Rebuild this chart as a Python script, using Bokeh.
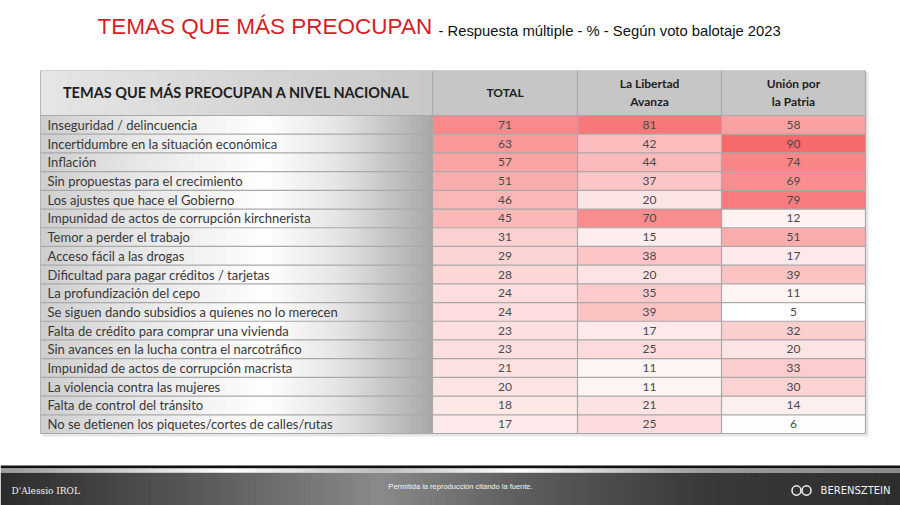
import numpy as np
from bokeh.plotting import figure
from bokeh.models import Range1d, ColumnDataSource, LinearColorMapper
from bokeh.core.properties import value
from bokeh.embed import file_html
from bokeh.resources import INLINE

# ---------------- data ----------------
title_main = "TEMAS QUE MÁS PREOCUPAN"
title_sub = "- Respuesta múltiple - % - Según voto balotaje 2023"
table_header = "TEMAS QUE MÁS PREOCUPAN A NIVEL NACIONAL"
col_headers = [["TOTAL"], ["La Libertad", "Avanza"], ["Unión por", "la Patria"]]

temas = [
    "Inseguridad / delincuencia",
    "Incertidumbre en la situación económica",
    "Inflación",
    "Sin propuestas para el crecimiento",
    "Los ajustes que hace el Gobierno",
    "Impunidad de actos de corrupción kirchnerista",
    "Temor a perder el trabajo",
    "Acceso fácil a las drogas",
    "Dificultad para pagar créditos / tarjetas",
    "La profundización del cepo",
    "Se siguen dando subsidios a quienes no lo merecen",
    "Falta de crédito para comprar una vivienda",
    "Sin avances en la lucha contra el narcotráfico",
    "Impunidad de actos de corrupción macrista",
    "La violencia contra las mujeres",
    "Falta de control del tránsito",
    "No se detienen los  piquetes/cortes de calles/rutas",
]
total = [71, 63, 57, 51, 46, 45, 31, 29, 28, 24, 24, 23, 23, 21, 20, 18, 17]
lla = [81, 42, 44, 37, 20, 70, 15, 38, 20, 35, 39, 17, 25, 11, 11, 21, 25]
uxp = [58, 90, 74, 69, 79, 12, 51, 17, 39, 11, 5, 32, 20, 33, 30, 14, 6]

footer_center = "Permitida la reproducción citando la fuente."
footer_left = "D'Alessio IROL"
footer_right = "BERENSZTEIN"

# ---------------- layout (page pixels) ----------------
W, H = 900, 505
X0, XL = 40, 432
COL_EDGES = [432, 577, 721, 865]
TOP, ROW0 = 70, 115
NR = len(temas)
RH = (433 - ROW0) / NR


def ry(py):
    return (py - (ROW0 + RH / 2)) / RH


FONT = value("Lato")

p = figure(width=W, height=H, output_backend="svg", toolbar_location=None,
           x_range=Range1d(0, W), y_range=Range1d(ry(H), ry(0)),
           x_axis_location=None, y_axis_location=None, min_border=0)
p.grid.visible = False
p.outline_line_color = None
p.background_fill_color = "white"
p.border_fill_color = "white"


def hexrgb(h):
    h = h.lstrip("#")
    return [int(h[i:i + 2], 16) for i in (0, 2, 4)]


def grad(stops_x, stops_c, xs):
    cols = np.array([hexrgb(c) for c in stops_c], dtype=float)
    out = []
    for x in xs:
        r = np.interp(x, stops_x, cols[:, 0])
        g = np.interp(x, stops_x, cols[:, 1])
        b = np.interp(x, stops_x, cols[:, 2])
        out.append("#%02x%02x%02x" % (int(r), int(g), int(b)))
    return out


# table shadow
p.quad(left=X0 + 2, right=COL_EDGES[-1] + 3, top=ry(TOP + 2), bottom=ry(436),
       fill_color="#e6e6e6", line_color=None)

# header backgrounds
n = 80
xs = np.linspace(X0, XL, n + 1)
hc = grad([X0, XL], ["#e6e6e6", "#c8c8c8"], (xs[:-1] + xs[1:]) / 2)
p.quad(left=xs[:-1], right=xs[1:] + 0.6, top=ry(TOP), bottom=-0.5, fill_color=hc, line_color=None)
p.quad(left=XL, right=COL_EDGES[-1], top=ry(TOP), bottom=-0.5, fill_color="#c6c6c6", line_color=None)

# label column gradient
xs = np.linspace(X0, XL, 160 + 1)
lc = grad([X0, 140, 265, 340, XL], ["#cecece", "#e8e8e8", "#ffffff", "#e4e4e4", "#a8a8a8"],
          (xs[:-1] + xs[1:]) / 2)
p.quad(left=xs[:-1], right=xs[1:] + 0.6, top=-0.5, bottom=NR - 0.5, fill_color=lc, line_color=None)

# heat cells
vals = [total, lla, uxp]
allv = total + lla + uxp
stops = np.linspace(0, 1, 256)
pal = grad([0, 1], ["#ffffff", "#f8696b"], stops)
mapper = LinearColorMapper(palette=pal, low=min(allv), high=max(allv))
cx, cy, cw, cv, ct = [], [], [], [], []
for j, col in enumerate(vals):
    for i, v in enumerate(col):
        cx.append((COL_EDGES[j] + COL_EDGES[j + 1]) / 2)
        cw.append(COL_EDGES[j + 1] - COL_EDGES[j])
        cy.append(i)
        cv.append(v)
        ct.append(str(v))
src = ColumnDataSource(dict(x=cx, y=cy, w=cw, v=cv, t=ct))
p.rect(x="x", y="y", width="w", height=1, source=src,
       fill_color={"field": "v", "transform": mapper}, line_color=None)
p.text(x="x", y="y", text="t", source=src, text_align="center", text_baseline="middle",
       text_font=FONT, text_font_size="12px", text_color="#4a4a4a")

# grid lines
ys = [i - 0.5 for i in range(NR + 1)]
p.segment(x0=[X0] * len(ys), x1=[COL_EDGES[-1]] * len(ys), y0=ys, y1=ys,
          line_color="#a9a9a9", line_width=1.2)
for xe in COL_EDGES:
    p.segment(x0=[xe], x1=[xe], y0=[ry(TOP)], y1=[NR - 0.5], line_color="#a9a9a9", line_width=1.2)
p.segment(x0=[X0], x1=[X0], y0=[ry(TOP)], y1=[NR - 0.5], line_color="#b4b4b4", line_width=1)
p.segment(x0=[X0], x1=[COL_EDGES[-1]], y0=[ry(TOP)], y1=[ry(TOP)], line_color="#d0d0d0", line_width=1)

# labels
p.text(x=[47] * NR, y=list(range(NR)), text=temas, text_baseline="middle",
       text_font=FONT, text_font_size="13px", text_color="#383838")

# headers
p.text(x=[236], y=[ry(92)], text=[table_header], text_align="center", text_baseline="middle",
       text_font=FONT, text_font_style="bold", text_font_size="14.5px", text_color="#1e1e1e")
for j, lines in enumerate(col_headers):
    cxh = (COL_EDGES[j] + COL_EDGES[j + 1]) / 2
    if len(lines) == 1:
        yy = [ry(92)]
    else:
        yy = [ry(82.5), ry(100.5)]
    p.text(x=[cxh] * len(lines), y=yy, text=lines, text_align="center", text_baseline="middle",
           text_font=FONT, text_font_style="bold", text_font_size="12px", text_color="#1e1e1e")

# title
p.text(x=[97], y=[ry(26)], text=[title_main], text_baseline="middle",
       text_font=value("Liberation Sans"), text_font_size="22.5px", text_color="#d41e25")
p.text(x=[438], y=[ry(30)], text=[title_sub], text_baseline="middle",
       text_font=value("Liberation Sans"), text_font_size="14.8px", text_color="#111111")

# footer
xs = np.linspace(0, W, 181)
fc = grad([0, 200, 380, 520, 700, 900], ["#2c2c2c", "#5a5a5a", "#8a8a8a", "#5e5e5e", "#3a3a3a", "#2e2e2e"],
          (xs[:-1] + xs[1:]) / 2)
p.quad(left=xs[:-1], right=xs[1:] + 0.6, top=ry(472), bottom=ry(510), fill_color=fc, line_color=None)
p.quad(left=[0], right=[W], top=[ry(465)], bottom=[ry(468)], fill_color="#111111", line_color=None)
gc = grad([0, 230, 380, 515, 700, 900], ["#9a9a9a", "#ffffff", "#bdbdbd", "#ffffff", "#a0a0a0", "#8a8a8a"],
          (xs[:-1] + xs[1:]) / 2)
p.quad(left=xs[:-1], right=xs[1:] + 0.6, top=ry(468), bottom=ry(472), fill_color=gc, line_color=None)

p.text(x=[11], y=[ry(490)], text=[footer_left], text_baseline="middle",
       text_font=value("DejaVu Serif"), text_font_size="9px", text_color="#f0f0f0")
p.text(x=[460], y=[ry(486)], text=[footer_center], text_align="center", text_baseline="middle",
       text_font=value("Liberation Sans"), text_font_size="7.5px", text_color="#f4f4f4")
p.text(x=[890], y=[ry(490)], text=[footer_right], text_align="right", text_baseline="middle",
       text_font=value("DejaVu Sans"), text_font_size="10px", text_color="#f4f4f4")
p.ellipse(x=[796, 806], y=[ry(490), ry(490)], width=9, height=0.5, fill_color=None,
          line_color="#f4f4f4", line_width=1.5)

open("out.html", "w").write(file_html(p, INLINE))
